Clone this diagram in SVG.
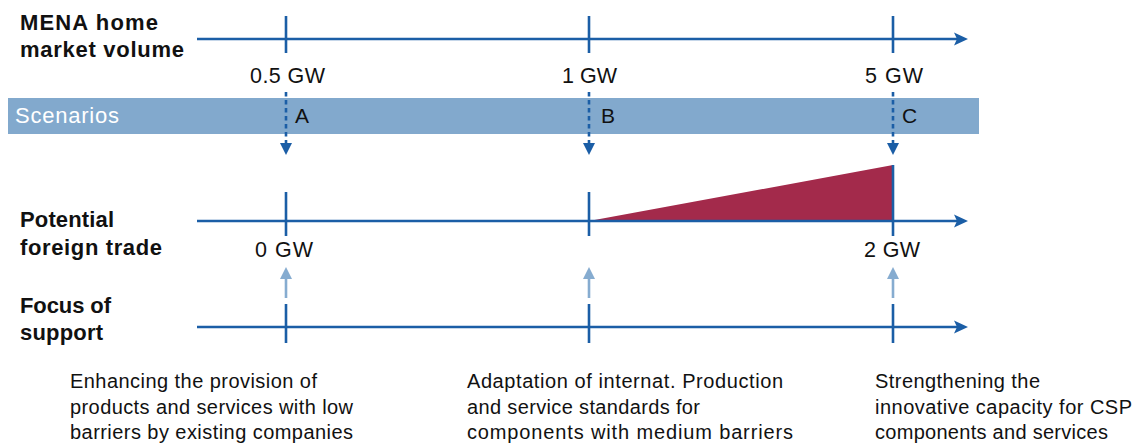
<svg xmlns="http://www.w3.org/2000/svg" width="1138" height="444" viewBox="0 0 1138 444">
<style>
.ax{stroke:#1b5ea6;stroke-width:2.6;fill:none}
.dash{stroke:#1b5ea6;stroke-width:2.6;fill:none;stroke-dasharray:4.5 3.5}
.lb{stroke:#86acd0;stroke-width:2.6;fill:none}
.hd{fill:#1b5ea6}
.lhd{fill:#86acd0}
.lab{font-family:"Liberation Sans",Arial,sans-serif;font-weight:bold;font-size:22px;fill:#111}
.gw{font-family:"Liberation Sans",Arial,sans-serif;font-size:21.5px;fill:#111;text-anchor:middle}
.let{font-family:"Liberation Sans",Arial,sans-serif;font-size:21px;fill:#111}
.txt{font-family:"Liberation Sans",Arial,sans-serif;font-size:20px;fill:#111}
</style>
<rect id="scenario-bar" x="8" y="98" width="971" height="36" fill="#82a9cd"/>
<g id="labels">
<text class="lab" x="20" y="30" textLength="138">MENA home</text>
<text class="lab" x="20" y="57" textLength="164">market volume</text>
<text class="lab" x="20" y="227" textLength="94">Potential</text>
<text class="lab" x="20" y="255" textLength="142">foreign trade</text>
<text class="lab" x="20" y="313" textLength="91">Focus of</text>
<text class="lab" x="20" y="340" textLength="83">support</text>
<text x="15" y="123" font-family="Liberation Sans, Arial, sans-serif" font-size="22" fill="#fff" textLength="104">Scenarios</text>
</g>
<g id="wedge"><polygon points="589,221 893,165 893,221" fill="#a32a4b"/></g>
<g id="connectors">
<line class="ax" x1="197" y1="39" x2="962" y2="39"/>
<path class="hd" d="M954,32.5 L968,39 L954,45.5 L957,39 Z"/>
<line class="ax" x1="197" y1="221" x2="962" y2="221"/>
<path class="hd" d="M954,214.5 L968,221 L954,227.5 L957,221 Z"/>
<line class="ax" x1="197" y1="327" x2="962" y2="327"/>
<path class="hd" d="M954,320.5 L968,327 L954,333.5 L957,327 Z"/>
<line class="ax" x1="286" y1="16" x2="286" y2="53"/>
<line class="ax" x1="589" y1="16" x2="589" y2="53"/>
<line class="ax" x1="893" y1="16" x2="893" y2="53"/>
<line class="ax" x1="286" y1="192" x2="286" y2="236"/>
<line class="ax" x1="589" y1="192" x2="589" y2="236"/>
<line class="ax" x1="893" y1="165" x2="893" y2="236"/>
<line class="ax" x1="286" y1="304" x2="286" y2="343"/>
<line class="ax" x1="589" y1="304" x2="589" y2="343"/>
<line class="ax" x1="893" y1="304" x2="893" y2="343"/>
<line class="dash" x1="286" y1="92" x2="286" y2="146"/>
<path class="hd" d="M280,143 L292,143 L286,155 Z"/>
<line class="dash" x1="589" y1="92" x2="589" y2="146"/>
<path class="hd" d="M583,143 L595,143 L589,155 Z"/>
<line class="dash" x1="893" y1="92" x2="893" y2="146"/>
<path class="hd" d="M887,143 L899,143 L893,155 Z"/>
<line class="lb" x1="286" y1="298" x2="286" y2="276"/>
<path class="lhd" d="M280,279 L292,279 L286,267 Z"/>
<line class="lb" x1="589" y1="298" x2="589" y2="276"/>
<path class="lhd" d="M583,279 L595,279 L589,267 Z"/>
<line class="lb" x1="893" y1="298" x2="893" y2="276"/>
<path class="lhd" d="M887,279 L899,279 L893,267 Z"/>
</g>
<g id="values">
<text class="gw" x="287.5" y="83" textLength="75">0.5 GW</text>
<text class="gw" x="589.5" y="83" textLength="55">1 GW</text>
<text class="gw" x="894" y="83" textLength="58">5 GW</text>
<text class="gw" x="284" y="257" textLength="58">0 GW</text>
<text class="gw" x="892" y="257" textLength="56">2 GW</text>
<text class="let" x="295" y="123">A</text>
<text class="let" x="601" y="123">B</text>
<text class="let" x="902" y="123">C</text>
</g>
<g id="node-a">
<text class="txt" x="70" y="388" textLength="247">Enhancing the provision of</text>
<text class="txt" x="70" y="413.5" textLength="283">products and services with low</text>
<text class="txt" x="70" y="439" textLength="283">barriers by existing companies</text>
</g>
<g id="node-b">
<text class="txt" x="467" y="388" textLength="316">Adaptation of internat. Production</text>
<text class="txt" x="467" y="413.5" textLength="233">and service standards for</text>
<text class="txt" x="467" y="439" textLength="326">components with medium barriers</text>
</g>
<g id="node-c">
<text class="txt" x="875" y="388" textLength="165">Strengthening the</text>
<text class="txt" x="875" y="413.5" textLength="257">innovative capacity for CSP</text>
<text class="txt" x="875" y="439" textLength="233">components and services</text>
</g>
</svg>
